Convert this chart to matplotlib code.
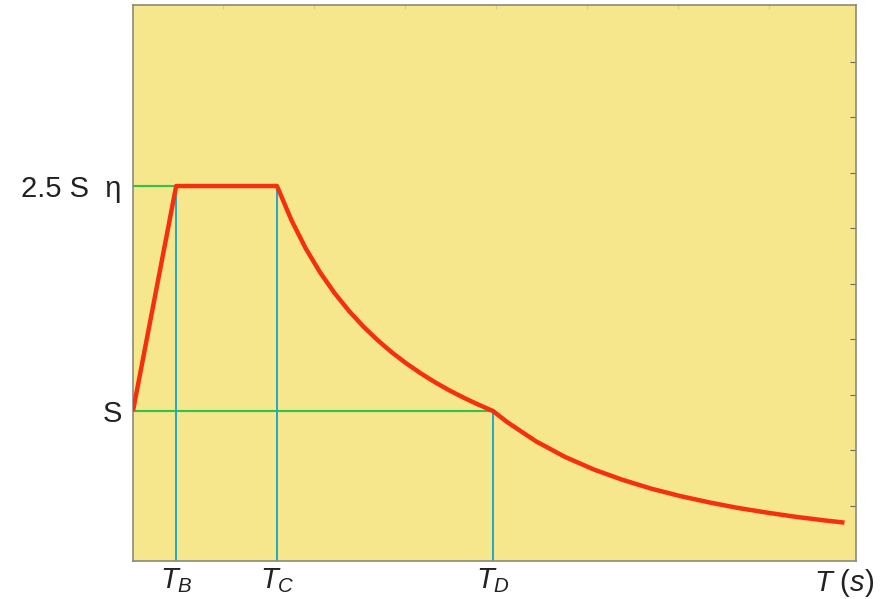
import numpy as np
import matplotlib.pyplot as plt

plt.rcParams['font.family'] = ['Liberation Sans', 'DejaVu Sans']
plt.rcParams['mathtext.fontset'] = 'custom'
plt.rcParams['mathtext.it'] = 'Liberation Sans:italic'
plt.rcParams['mathtext.rm'] = 'Liberation Sans'

# corner periods (s) and spectral levels (in units of S)
TB = 0.15
TC = 0.5
TD = 1.25
T_END = 2.47
S = 1.0
PLATEAU = 2.5

# spectrum
T = [0.0, 0.15, 0.5, 0.55, 0.6, 0.65, 0.7, 0.75, 0.8, 0.85, 0.9, 0.95, 1.0,
     1.05, 1.1, 1.15, 1.2, 1.25, 1.3, 1.4, 1.5, 1.6, 1.7, 1.8, 1.9, 2.0,
     2.1, 2.2, 2.3, 2.4, 2.47]
Se = [1.0, 2.5, 2.5, 2.273, 2.083, 1.923, 1.786, 1.667, 1.563, 1.471, 1.389,
      1.316, 1.25, 1.19, 1.136, 1.087, 1.042, 1.0, 0.925, 0.797, 0.694, 0.61,
      0.541, 0.482, 0.433, 0.391, 0.354, 0.323, 0.295, 0.271, 0.256]

x_labels = ['$T_B$', '$T_C$', '$T_D$', '$T\\ (s)$']
y_labels = ['S', '2.5 S  η']

yellow = '#f6e68c'
red = '#f5300f'
green = '#2ec44a'
blue = '#1fa9c9'

fig = plt.figure(figsize=(8.9, 5.99), dpi=100)
ax = fig.add_axes([0.1494, 0.0634, 0.8124, 0.9283])
ax.set_facecolor(yellow)

# guide lines
ax.plot([0, TB], [PLATEAU, PLATEAU], color=green, lw=1.5, zorder=2)
ax.plot([0, TD], [S, S], color=green, lw=1.5, zorder=2)
ax.plot([TB, TB], [0, PLATEAU], color=blue, lw=1.4, zorder=2)
ax.plot([TC, TC], [0, PLATEAU], color=blue, lw=1.4, zorder=2)
ax.plot([TD, TD], [0, S], color=blue, lw=1.4, zorder=2)

ax.plot(T, Se, color=red, lw=3.2, zorder=3, solid_capstyle='butt')

ax.set_xlim(0, 2.51)
ax.set_ylim(0, 3.707)

ax.set_xticks([TB, TC, TD, T_END])
ax.set_xticklabels(x_labels, fontsize=21)
ax.set_yticks([S, PLATEAU])
ax.set_yticklabels(y_labels, fontsize=21)
ax.tick_params(axis='both', length=0, pad=8, colors='#222222')
ax.tick_params(axis='x', pad=4)

for sp in ax.spines.values():
    sp.set_color('#8a8a7a')
    sp.set_linewidth(1.2)

# faint frame ticks on top and right
sx = ax.secondary_xaxis('top')
sx.set_xticks(np.arange(0.3125, 2.5, 0.316))
sx.set_xticklabels([])
sx.tick_params(direction='in', length=3, color='#d8cc88')
sx.spines['top'].set_visible(False)
sy = ax.secondary_yaxis('right')
sy.set_yticks(np.arange(0.367, 3.6, 0.37))
sy.set_yticklabels([])
sy.tick_params(direction='in', length=4, color='#6a6a5a')
sy.spines['right'].set_visible(False)

fig.savefig('out.png', dpi=100, facecolor='white')
